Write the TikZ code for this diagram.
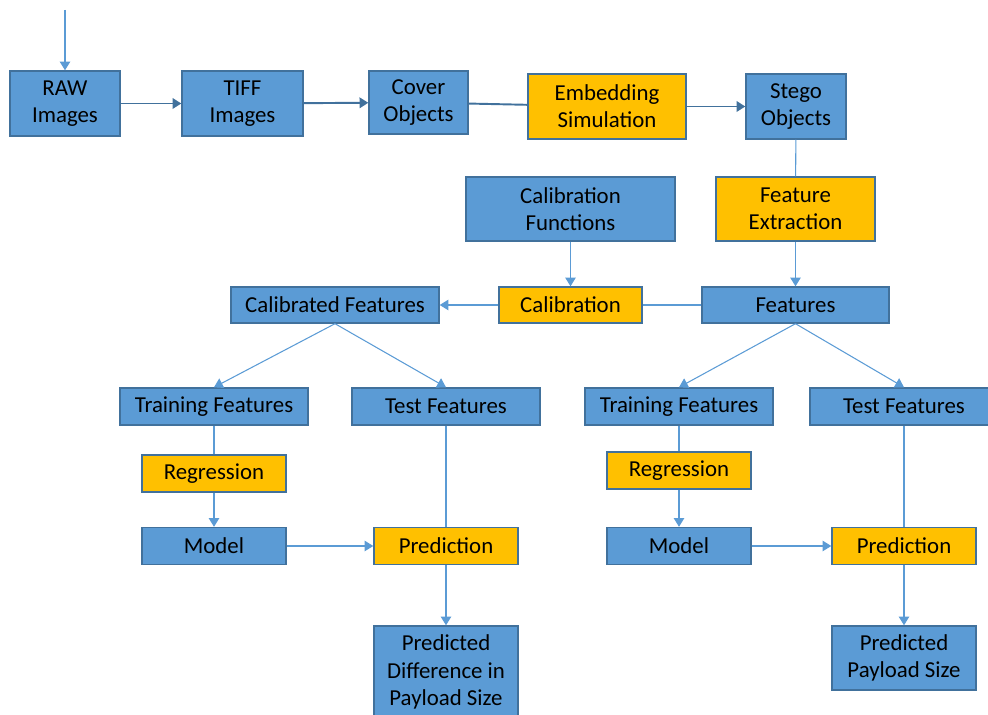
\documentclass[tikz,border=0pt]{standalone}
\usepackage{fontspec}
\setmainfont{Carlito}
\usetikzlibrary{arrows.meta}
\definecolor{boxblue}{HTML}{5B9BD5}
\definecolor{boxedge}{HTML}{41719C}
\definecolor{boxgold}{HTML}{FFC000}
\begin{document}
\begin{tikzpicture}[x=0.02cm,y=-0.02cm,
    box/.style={draw=boxedge,line width=0.8pt,align=center,inner sep=0pt,
      font=\fontsize{13}{15.5}\selectfont},
    blubox/.style={box,fill=boxblue},
    gldbox/.style={box,fill=boxgold},
    thin line/.style={draw=boxblue,line width=0.6pt},
    thick line/.style={draw=boxedge,line width=1.1pt},
    tip/.style={-{Triangle[width=6pt,length=5pt]}}]

        \useasboundingbox (0,0) rectangle (988,715);

        % top row
        \node[blubox,minimum width=2.2cm,minimum height=1.3cm]   (raw)    at (65,103.5)  {RAW\\Images};
        \node[blubox,minimum width=2.42cm,minimum height=1.3cm]  (tiff)   at (242.5,103.5) {TIFF\\Images};
        \node[blubox,minimum width=1.98cm,minimum height=1.26cm] (cover)  at (418.5,102.5) {Cover\\Objects};
        \node[gldbox,minimum width=3.16cm,minimum height=1.3cm]  (embed)  at (607,106.5) {Embedding\\Simulation};
        \node[blubox,minimum width=2cm,minimum height=1.3cm]     (stego)  at (796,106.5) {Stego\\Objects};
        \coordinate (in) at (65,10);

        % calibration
        \node[blubox,minimum width=4.18cm,minimum height=1.28cm] (calfun)  at (570.5,209) {Calibration\\Functions};
        \node[gldbox,minimum width=3.18cm,minimum height=1.28cm] (featext) at (795.5,209) {Feature\\Extraction};
        \node[blubox,minimum width=4.16cm,minimum height=0.72cm] (calfeat) at (335,305)   {Calibrated Features};
        \node[gldbox,minimum width=2.86cm,minimum height=0.72cm] (calib)   at (570.5,305) {Calibration};
        \node[blubox,minimum width=3.74cm,minimum height=0.72cm] (feat)    at (795.5,305) {Features};

        % left branch
        \begin{scope}[every node/.append style={minimum height=0.74cm}]
          \node[blubox,minimum width=3.76cm] (trainL) at (214,406.5) {Training Features};
          \node[blubox,minimum width=3.76cm] (testL)  at (446,406.5) {Test Features};
          \node[gldbox,minimum width=2.88cm] (regL)   at (214,473.5) {Regression};
          \node[blubox,minimum width=2.88cm] (modelL) at (214,546)   {Model};
          \node[gldbox,minimum width=2.88cm] (predL)  at (446,546)   {Prediction};
        \end{scope}
        \node[blubox,minimum width=2.88cm,minimum height=1.84cm] (outL) at (446,672) {Predicted\\Difference in\\Payload Size};

        % right branch
        \begin{scope}[every node/.append style={minimum height=0.74cm}]
          \node[blubox,minimum width=3.76cm] (trainR) at (679,406.5) {Training Features};
          \node[blubox,minimum width=3.76cm] (testR)  at (904,406.5) {Test Features};
          \node[gldbox,minimum width=2.88cm] (regR)   at (679,470.5) {Regression};
          \node[blubox,minimum width=2.88cm] (modelR) at (679,546)   {Model};
          \node[gldbox,minimum width=2.88cm] (predR)  at (904,546)   {Prediction};
        \end{scope}
        \node[blubox,minimum width=2.88cm,minimum height=1.28cm] (outR) at (904,658) {Predicted\\Payload Size};

        \begin{scope}[every edge/.style={thick line}]
          \path (raw)   edge[tip] (tiff);
          \path (tiff)  edge[tip] (cover);
          \path (cover) edge      (embed);
          \path (embed) edge[tip] (stego);
        \end{scope}

        \begin{scope}[every edge/.style={thin line}]
          \path (in)             edge[tip] (raw);
          \path (stego)          edge      (featext);
          \path (featext)        edge[tip] (feat);
          \path (calfun)         edge[tip] (calib);
          \path (feat)           edge      (calib);
          \path (calib)          edge[tip] (calfeat);
          \path (calfeat.south)  edge[tip] (trainL.north);
          \path (calfeat.south)  edge[tip] (testL.north);
          \path (feat.south)     edge[tip] (trainR.north);
          \path (feat.south)     edge[tip] (testR.north);
          \path (trainL)         edge      (regL);
          \path (regL)           edge[tip] (modelL);
          \path (testL)          edge      (predL);
          \path (modelL)         edge[tip] (predL);
          \path (predL)          edge[tip] (outL);
          \path (trainR)         edge      (regR);
          \path (regR)           edge[tip] (modelR);
          \path (testR)          edge      (predR);
          \path (modelR)         edge[tip] (predR);
          \path (predR)          edge[tip] (outR);
        \end{scope}

      \end{tikzpicture}
\end{document}
